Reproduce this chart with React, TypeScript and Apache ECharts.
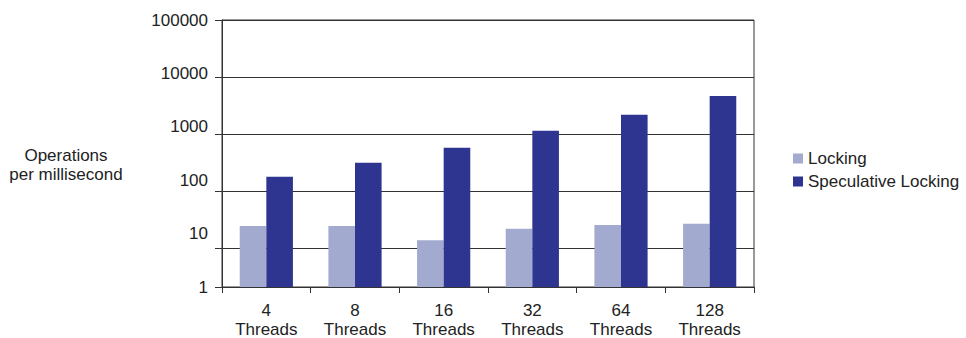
import React, { useEffect, useRef } from "react";
import * as echarts from "echarts";

// Thread counts on the x axis
const categories = ["4\nThreads", "8\nThreads", "16\nThreads", "32\nThreads", "64\nThreads", "128\nThreads"];
// Operations per millisecond
const lockingValues = [25, 25, 14, 22.4, 26, 27.4];
const speculativeValues = [181, 318, 581, 1151, 2193, 4700];
// Labels printed down the value axis
const yTickLabels = ["1", "10", "100", "1000", "10000", "100000"];

const FONT = "Liberation Sans, Arial, Helvetica, sans-serif";
const TEXT_COLOR = "#222";
const LINE_COLOR = "#333";

export default function App() {
  const ref = useRef<HTMLDivElement>(null);

  useEffect(() => {
    if (!ref.current) return;
    const chart = echarts.init(ref.current, undefined, { renderer: "svg" });
    chart.setOption({
      animation: false,
      backgroundColor: "#fff",
      textStyle: { fontFamily: FONT },
      grid: {
        left: 222,
        right: 212,
        top: 20,
        bottom: 51,
        outerBoundsMode: "none",
        containLabel: false,
        show: true,
        borderColor: LINE_COLOR,
        borderWidth: 1,
      },
      legend: {
        orient: "vertical",
        left: 788,
        top: 145,
        itemWidth: 10,
        itemHeight: 10,
        itemGap: 6,
        icon: "rect",
        textStyle: { fontFamily: FONT, fontSize: 17, color: TEXT_COLOR, lineHeight: 17 },
        data: ["Locking", "Speculative Locking"],
      },
      graphic: [
        {
          type: "text",
          x: 66,
          y: 165,
          style: {
            text: "Operations\nper millisecond",
            font: `17px ${FONT}`,
            fill: TEXT_COLOR,
            textAlign: "center",
            textVerticalAlign: "middle",
            lineHeight: 19,
          },
        },
      ],
      xAxis: {
        type: "category",
        data: categories,
        axisLine: { show: true, lineStyle: { color: LINE_COLOR, width: 1 } },
        axisTick: { show: true, length: 6, alignWithLabel: false, lineStyle: { color: LINE_COLOR } },
        axisLabel: { fontFamily: FONT, fontSize: 17, color: TEXT_COLOR, lineHeight: 19, margin: 14, interval: 0 },
        splitLine: { show: false },
      },
      yAxis: [
        {
          type: "log",
          logBase: 10,
          min: 2.14,
          max: 100000,
          axisLine: { show: true, lineStyle: { color: LINE_COLOR, width: 1 } },
          axisTick: { show: true, length: 7, lineStyle: { color: LINE_COLOR } },
          axisLabel: { show: false },
          splitLine: { show: true, lineStyle: { color: LINE_COLOR, width: 1 } },
        },
        {
          type: "category",
          position: "left",
          boundaryGap: false,
          data: yTickLabels,
          axisLine: { show: false },
          axisTick: { show: false },
          splitLine: { show: false },
          axisLabel: { fontFamily: FONT, fontSize: 17, color: TEXT_COLOR, margin: 14, interval: 0 },
        },
      ],
      series: [
        {
          name: "Locking",
          type: "bar",
          yAxisIndex: 0,
          data: lockingValues,
          itemStyle: { color: "#A3AACF" },
          barGap: "0%",
          barCategoryGap: "40%",
          clip: true,
        },
        {
          name: "Speculative Locking",
          type: "bar",
          yAxisIndex: 0,
          data: speculativeValues,
          itemStyle: { color: "#2E3590" },
          barGap: "0%",
          barCategoryGap: "40%",
          clip: true,
        },
      ],
    });
    return () => chart.dispose();
  }, []);

  return (
    <div
      ref={ref}
      style={{ position: "fixed", left: 0, top: 0, width: 966, height: 338, background: "#fff" }}
    />
  );
}
